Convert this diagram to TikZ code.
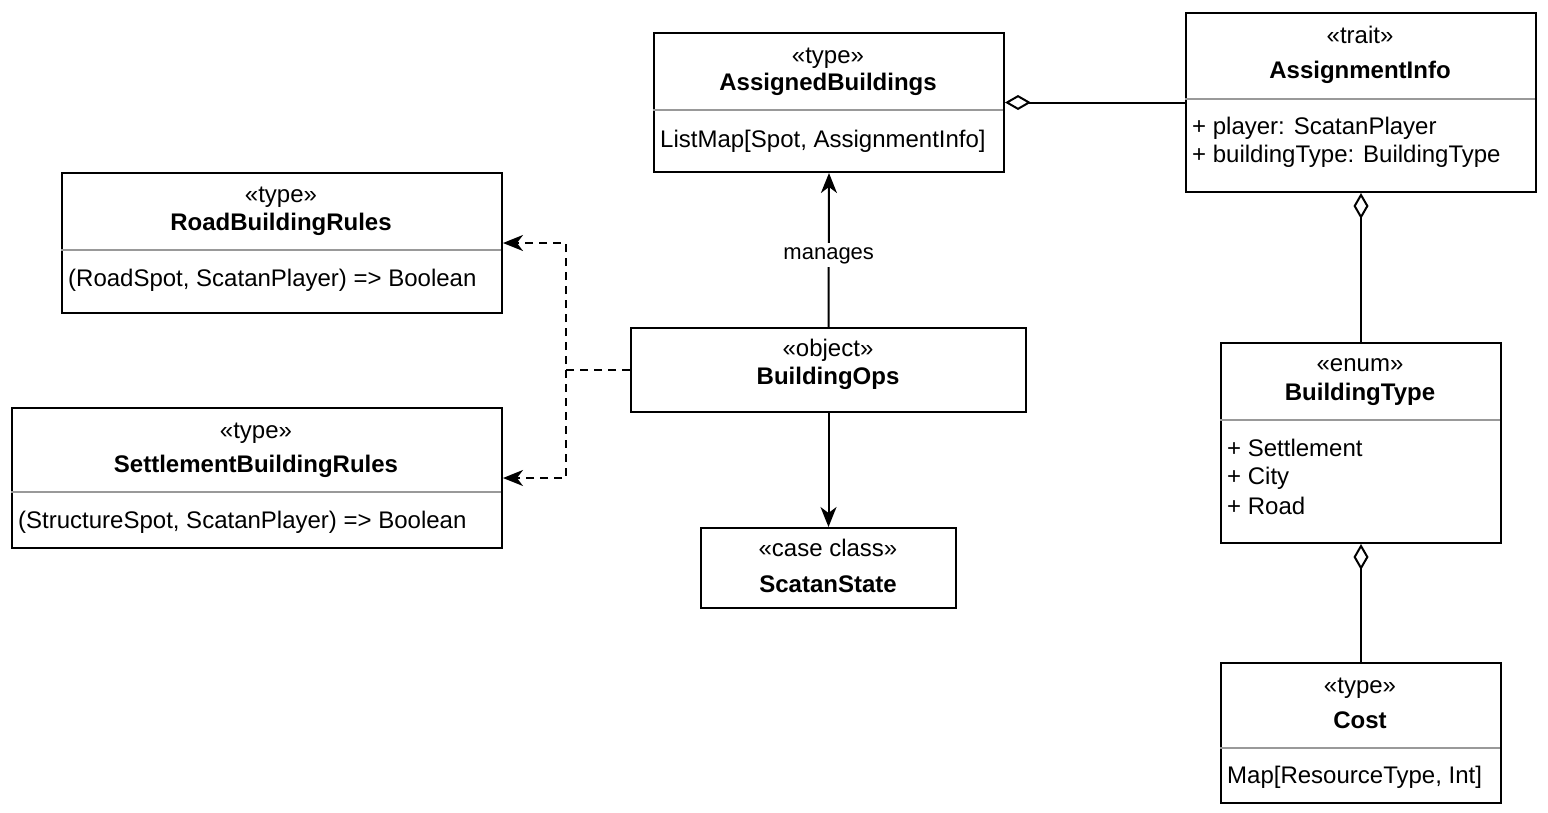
\documentclass[tikz,border=0pt]{standalone}
\usepackage{fontspec}
\setmainfont{Liberation Sans}
\usetikzlibrary{arrows.meta}
\tikzset{
  umlbox/.style={draw=black, line width=2pt, fill=white, rectangle, inner sep=0pt, anchor=north west},
  divider/.style={draw=black!40, line width=2pt},
  txt/.style={inner sep=0pt, font=\fontsize{24}{28}\selectfont, text height=19pt, text depth=3pt},
  ctxt/.style={txt, anchor=center},
  ltxt/.style={txt, anchor=west},
  btxt/.style={ctxt, font=\fontsize{24}{28}\selectfont\bfseries},
  conn/.style={draw=black, line width=2pt},
  assoc/.style={conn, -{Stealth[length=20pt, width=16pt, inset=6pt]}},
  dep/.style={conn, dashed, dash pattern=on 8pt off 6pt, -{Stealth[length=20pt, width=16pt, inset=6pt]}},
  agg/.style={conn, {Diamond[open, length=26pt, width=15pt, line width=2pt]}-},
  lbl/.style={fill=white, inner sep=2pt, font=\fontsize{22}{26}\selectfont, text height=15pt, text depth=5pt}
}
\begin{document}
\begin{tikzpicture}[x=1pt, y=-1pt]
\useasboundingbox[fill=white] (0,0) rectangle (1548,812);

% AssignedBuildings
\node[umlbox, minimum width=350pt, minimum height=139pt] (ab) at (653,32) {};
\draw[divider] (653,110) -- (1003,110);
\node[ctxt] (abst) at (828,55) {«type»};
\node[btxt] (abnm) at (828,82) {AssignedBuildings};
\node[ltxt] (abat) at (660,139) {ListMap[Spot, AssignmentInfo]};

% AssignmentInfo
\node[umlbox, minimum width=350pt, minimum height=179pt] (ai) at (1185,12) {};
\draw[divider] (1185,99) -- (1535,99);
\node[ctxt] (aist) at (1360,35) {«trait»};
\node[btxt] (ainm) at (1360,70) {AssignmentInfo};
\node[ltxt] (aia1) at (1192,126) {+ player: ScatanPlayer};
\node[ltxt] (aia2) at (1192,154) {+ buildingType: BuildingType};

% RoadBuildingRules
\node[umlbox, minimum width=440pt, minimum height=140pt] (rbr) at (61,172) {};
\draw[divider] (61,250) -- (501,250);
\node[ctxt] (rbrst) at (281,194) {«type»};
\node[btxt] (rbrnm) at (281,222) {RoadBuildingRules};
\node[ltxt] (rbrat) at (68,278) {(RoadSpot, ScatanPlayer) => Boolean};

% SettlementBuildingRules
\node[umlbox, minimum width=490pt, minimum height=140pt] (sbr) at (11,407) {};
\draw[divider] (11,492) -- (501,492);
\node[ctxt] (sbrst) at (256,430) {«type»};
\node[btxt] (sbrnm) at (256,464) {SettlementBuildingRules};
\node[ltxt] (sbrat) at (18,520) {(StructureSpot, ScatanPlayer) => Boolean};

% BuildingOps
\node[umlbox, minimum width=395pt, minimum height=84pt] (bo) at (630,327) {};
\node[ctxt] (bost) at (828,348) {«object»};
\node[btxt] (bonm) at (828,376) {BuildingOps};

% ScatanState
\node[umlbox, minimum width=255pt, minimum height=80pt] (ss) at (700,527) {};
\node[ctxt] (ssst) at (828,548) {«case class»};
\node[btxt] (ssnm) at (828,584) {ScatanState};

% BuildingType
\node[umlbox, minimum width=280pt, minimum height=200pt] (bt) at (1220,342) {};
\draw[divider] (1220,420) -- (1500,420);
\node[ctxt] (btst) at (1360,363) {«enum»};
\node[btxt] (btnm) at (1360,392) {BuildingType};
\node[ltxt] (bta1) at (1227,448) {+ Settlement};
\node[ltxt] (bta2) at (1227,476) {+ City};
\node[ltxt] (bta3) at (1227,506) {+ Road};

% Cost
\node[umlbox, minimum width=280pt, minimum height=140pt] (cost) at (1220,662) {};
\draw[divider] (1220,748) -- (1500,748);
\node[ctxt] (costst) at (1360,685) {«type»};
\node[btxt] (costnm) at (1360,720) {Cost};
\node[ltxt] (costat) at (1227,775) {Map[ResourceType, Int]};

% connectors
\draw[agg] (ab.east) -- (ab.east -| ai.west);
\draw[agg] (ai.south) -- (bt.north);
\draw[agg] (bt.south) -- (cost.north);
\draw[assoc] (bo.north) -- node[lbl, pos=0.47] (mlbl) {manages} (ab.south);
\draw[assoc] (bo.south) -- (ss.north);
\draw[dep] (bo.west) -- ++(-64,0) coordinate (j) |- (rbr.east);
\draw[dep] (j) |- (sbr.east);
\end{tikzpicture}
\end{document}
